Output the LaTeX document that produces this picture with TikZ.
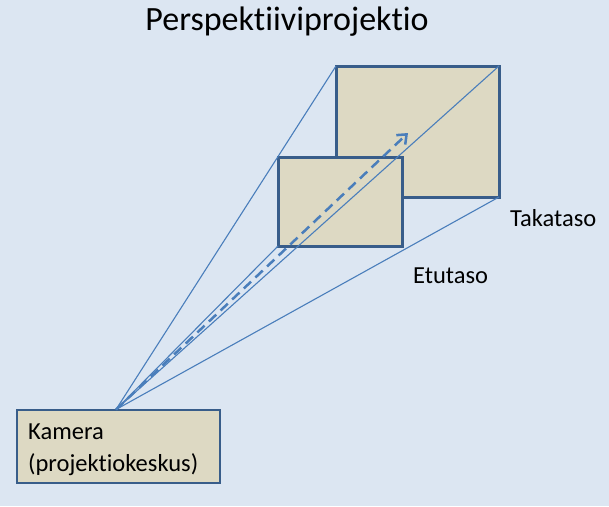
\documentclass[tikz,border=0pt]{standalone}
\usepackage{fontspec}
\setmainfont{Carlito}[Ligatures={NoCommon}, RawFeature={-liga;-dlig;-clig}]
\usetikzlibrary{arrows.meta}
\definecolor{bgc}{HTML}{DCE6F2}
\definecolor{tanf}{HTML}{DDD9C3}
\definecolor{darkb}{HTML}{385D8A}
\definecolor{lineb}{HTML}{4A7EBB}
\tikzset{
  plane/.style={draw=darkb, line width=3pt, fill=tanf, rectangle, inner sep=0pt, outer sep=0pt},
  ray/.style={draw=lineb, line width=1.1pt},
  lbl/.style={font=\fontsize{24.5}{30}\selectfont, inner sep=0pt, anchor=base west},
}
\begin{document}
\begin{tikzpicture}[x=1pt,y=-1pt]
\fill[bgc] (0,0) rectangle (609,506);
\useasboundingbox (0,0) rectangle (609,506);
\node[font=\fontsize{34}{40}\selectfont, inner sep=0pt, anchor=base] (title) at (287,30) {Perspektiiviprojektio};
\node[plane, minimum width=163pt, minimum height=131pt] (back) at (417.5,131.5) {};
\node[plane, minimum width=124pt, minimum height=89pt] (front) at (340,201.5) {};
\node[draw=darkb, line width=2pt, fill=tanf, rectangle, inner sep=0pt, outer sep=0pt, minimum width=203pt, minimum height=73pt] (cam) at (118.5,446.5) {};
\node[lbl] (kam1) at (28,439) {Kamera};
\node[lbl] (kam2) at (28,471) {(projektiokeskus)};
\coordinate (apex) at (116,409.5);
\coordinate (tip) at (408,133);
\draw[ray] (apex) -- (back.north west);
\draw[ray] (apex) -- (back.north east);
\draw[ray] (apex) -- (back.south east);
\draw[ray] (apex) -- (front.south west);
\draw[draw=lineb, line width=2.5pt, dash pattern=on 10pt off 6pt, -{Straight Barb[length=8pt,width=13pt]}] (apex) -- (tip);
\node[lbl] (taka) at (510,226) {Takataso};
\node[lbl] (etu) at (413,283) {Etutaso};
\end{tikzpicture}
\end{document}
